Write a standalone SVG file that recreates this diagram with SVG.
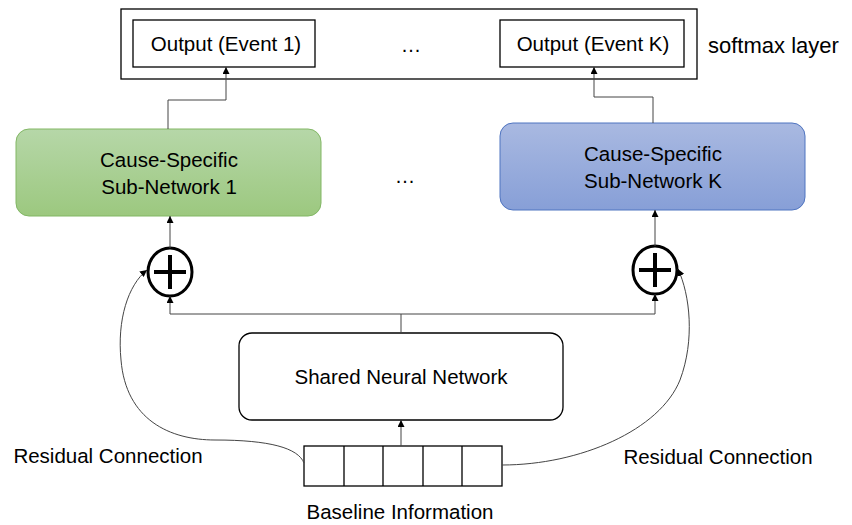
<svg xmlns="http://www.w3.org/2000/svg" width="852" height="525" viewBox="0 0 852 525">
<defs>
<linearGradient id="gGreen" x1="0" y1="0" x2="0" y2="1"><stop offset="0" stop-color="#b6d7a8"/><stop offset="1" stop-color="#9cc87f"/></linearGradient>
<linearGradient id="gBlue" x1="0" y1="0" x2="0" y2="1"><stop offset="0" stop-color="#a9b9e1"/><stop offset="1" stop-color="#879fd7"/></linearGradient>
<marker id="arr" viewBox="0 0 10 10" refX="10" refY="5" markerWidth="7" markerHeight="7" markerUnits="userSpaceOnUse" orient="auto"><path d="M0,0 L10,5 L0,10 z" fill="#000"/></marker>
<style>
text{font-family:"Liberation Sans",Arial,sans-serif;fill:#000;text-anchor:middle}
.t{font-size:20.5px}
.box{fill:#fff;stroke:#000;stroke-width:1.3}
.conn{fill:none;stroke:#444;stroke-width:1}
.circ{fill:#fff;stroke:#000;stroke-width:3}
.plus{stroke:#000;stroke-width:4}
</style>
</defs>
<g id="softmax">
<rect x="121" y="9" width="576" height="70" class="box"/>
<text x="708" y="53" class="t" style="text-anchor:start;font-size:22px">softmax layer</text>
<text x="411" y="52" class="t">…</text>
</g>
<g id="out1"><rect x="133" y="20" width="182" height="47" class="box"/><text x="226" y="51" class="t">Output (Event 1)</text></g>
<g id="outK"><rect x="500" y="20" width="184" height="47" class="box"/><text x="593" y="51" class="t">Output (Event K)</text></g>
<g id="sub1"><rect x="16" y="129" width="305" height="87" rx="13" fill="url(#gGreen)" stroke="#82b765" stroke-width="1"/>
<text x="169" y="167" class="t">Cause-Specific</text><text x="169" y="194" class="t">Sub-Network 1</text></g>
<g id="subK"><rect x="500" y="123" width="305" height="87" rx="13" fill="url(#gBlue)" stroke="#4f74c0" stroke-width="1"/>
<text x="653" y="161" class="t">Cause-Specific</text><text x="653" y="188" class="t">Sub-Network K</text></g>
<text x="405" y="183" class="t">…</text>
<g id="add1"><ellipse cx="170" cy="272" rx="22" ry="24" class="circ"/><path d="M154,272 H186 M170,255 V289" class="plus"/></g>
<g id="addK"><ellipse cx="655" cy="270" rx="22" ry="24" class="circ"/><path d="M639,270 H671 M655,253 V287" class="plus"/></g>
<g id="shared"><rect x="239" y="333" width="324" height="87" rx="13" class="box"/><text x="401" y="384" class="t">Shared Neural Network</text></g>
<g id="input">
<rect x="304" y="446" width="198" height="40" class="box"/>
<path d="M344,446 V486 M383,446 V486 M423,446 V486 M462,446 V486" stroke="#000" stroke-width="1.3"/>
<text x="400" y="519" class="t">Baseline Information</text>
</g>
<text x="108" y="463" class="t">Residual Connection</text>
<text x="718" y="464" class="t">Residual Connection</text>
<g id="connectors">
<path d="M168,129 V100 H226 V67" class="conn" marker-end="url(#arr)"/>
<path d="M653,123 V97 H594 V67" class="conn" marker-end="url(#arr)"/>
<path d="M170,248 V216" class="conn" marker-end="url(#arr)"/>
<path d="M655,246 V210" class="conn" marker-end="url(#arr)"/>
<path d="M401,333 V314" class="conn"/>
<path d="M401,314 H170 V296" class="conn" marker-end="url(#arr)"/>
<path d="M401,314 H655 V294" class="conn" marker-end="url(#arr)"/>
<path d="M401,446 V420" class="conn" marker-end="url(#arr)"/>
<path d="M304,463 C298,448 270,440 215,440 C170,440 126,420 121,360 C117,320 128,285 147,270" class="conn" marker-end="url(#arr)"/>
<path d="M502,465 C580,465 660,430 680,380 C695,340 690,295 678,269" class="conn" marker-end="url(#arr)"/>
</g>
</svg>
